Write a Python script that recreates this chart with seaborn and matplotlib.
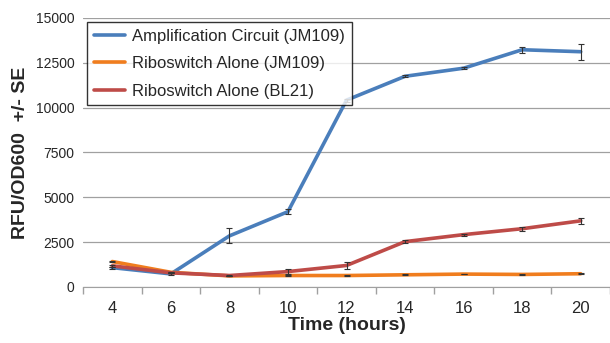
import pandas as pd
import numpy as np
import matplotlib.pyplot as plt
import seaborn as sns

# Values
hours = ['4', '6', '8', '10', '12', '14', '16', '18', '20']
amp_jm109 = [1080, 730, 2850, 4200, 10420, 11750, 12200, 13230, 13120]
amp_jm109_se = [60, 40, 420, 150, 80, 60, 60, 180, 450]
ribo_jm109 = [1420, 820, 620, 640, 640, 680, 720, 700, 740]
ribo_jm109_se = [40, 30, 20, 20, 20, 20, 20, 20, 20]
ribo_bl21 = [1180, 790, 640, 860, 1200, 2530, 2920, 3250, 3690]
ribo_bl21_se = [50, 30, 30, 140, 190, 100, 60, 100, 160]

series = ['Amplification Circuit (JM109)', 'Riboswitch Alone (JM109)', 'Riboswitch Alone (BL21)']
colors = ['#4a7ebb', '#f07d1e', '#be4b48']

pos = np.arange(len(hours))
df = pd.DataFrame({
    'pos': np.tile(pos, 3),
    'value': amp_jm109 + ribo_jm109 + ribo_bl21,
    'se': amp_jm109_se + ribo_jm109_se + ribo_bl21_se,
    'series': np.repeat(series, len(hours)),
})

sns.set_style('white')
plt.rcParams['font.family'] = ['Liberation Sans', 'DejaVu Sans']

fig = plt.figure(figsize=(6.1, 3.43), dpi=100)
ax = fig.add_axes([83 / 610, 1 - 287 / 343, 1 - 83 / 610, 269 / 343])

sns.lineplot(data=df, x='pos', y='value', hue='series', palette=colors,
             hue_order=series, linewidth=2.6, ax=ax, zorder=3)

# error bars for each series
for name in series:
    sub = df[df['series'] == name]
    ax.errorbar(sub['pos'], sub['value'], yerr=sub['se'], fmt='none',
                ecolor='#333333', elinewidth=0.8, capsize=2.5, capthick=0.8, zorder=4)

ax.set_xlim(-0.5, len(hours) - 0.5)
ax.set_ylim(0, 15000)
ax.set_yticks(np.arange(0, 15001, 2500))
ax.set_yticklabels([str(v) for v in range(0, 15001, 2500)], fontsize=10)
ax.set_xticks(pos)
ax.set_xticklabels(hours, fontsize=12)
ax.set_xticks(np.arange(-0.5, len(hours), 1), minor=True)
ax.tick_params(axis='x', which='major', length=0, pad=10)
ax.tick_params(axis='x', which='minor', length=5, color='#a0a0a0', width=1, direction='out', bottom=True)
ax.tick_params(axis='y', length=0, pad=6)
ax.yaxis.grid(True, color='#a0a0a0', linewidth=0.9)
ax.set_axisbelow(True)

for s in ['top', 'right', 'left']:
    ax.spines[s].set_visible(False)
ax.spines['bottom'].set_color('#a0a0a0')

ax.set_xlabel('Time (hours)', fontsize=14, fontweight='bold', labelpad=1)
ax.set_ylabel('RFU/OD600  +/- SE', fontsize=14, fontweight='bold', labelpad=5)

leg = ax.legend(loc='upper left', bbox_to_anchor=(0.0076, 0.985), borderaxespad=0,
                fontsize=12, frameon=True, fancybox=False, edgecolor='black',
                handlelength=1.85, handletextpad=0.45, borderpad=0.4, labelspacing=0.75)
leg.get_frame().set_linewidth(1.0)
for line in leg.get_lines():
    line.set_linewidth(2.6)

fig.savefig('out.png', dpi=100)
